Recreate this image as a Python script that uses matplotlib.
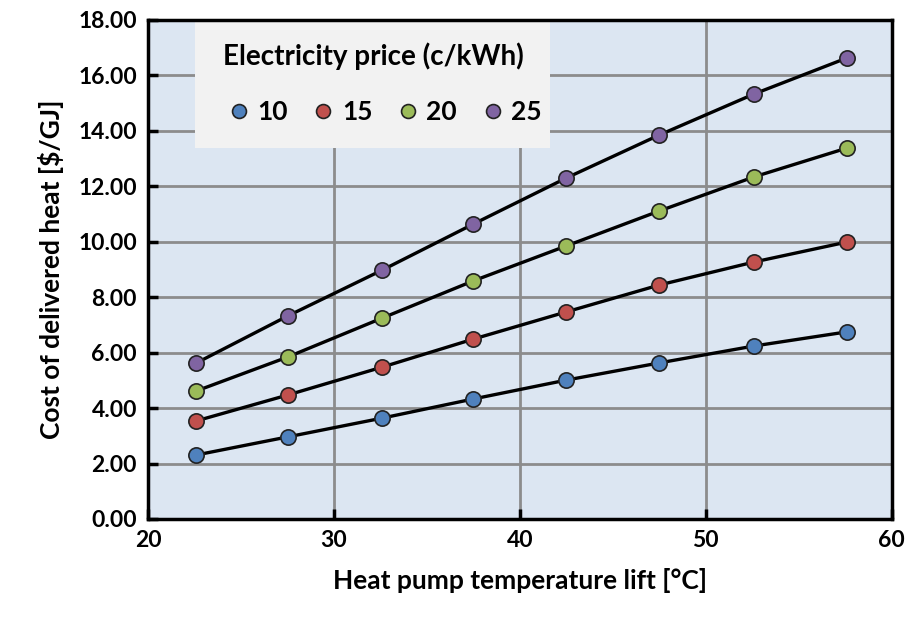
import matplotlib
matplotlib.use('Agg')
import matplotlib.pyplot as plt
from matplotlib.lines import Line2D
from matplotlib.patches import Rectangle

# data
lift = [22.6, 27.5, 32.6, 37.5, 42.5, 47.5, 52.6, 57.6]
cost_10 = [2.31, 2.96, 3.64, 4.33, 5.01, 5.63, 6.24, 6.75]
cost_15 = [3.54, 4.47, 5.48, 6.49, 7.47, 8.44, 9.27, 9.99]
cost_20 = [4.62, 5.84, 7.25, 8.59, 9.85, 11.11, 12.34, 13.38]
cost_25 = [5.63, 7.32, 8.98, 10.64, 12.30, 13.85, 15.33, 16.63]
prices = ['10', '15', '20', '25']
colors = ['#4f81bd', '#c0504d', '#9bbb59', '#8064a2']

plt.rcParams['font.family'] = ['Lato', 'DejaVu Sans']
plt.rcParams['font.weight'] = 'bold'

fig = plt.figure(figsize=(9.09, 6.22), dpi=100)
ax = fig.add_axes([0.163, 0.1656, 0.818, 0.8024])
ax.set_facecolor('#dce6f2')

series = [cost_10, cost_15, cost_20, cost_25]
handles = []
for vals, col, lab in zip(series, colors, prices):
	ax.plot(lift, vals, color='black', lw=2.4, zorder=3)
	ax.plot(lift, vals, ls='none', marker='o', ms=11, mfc=col, mec='#222222', mew=1.2, zorder=4)
	handles.append(Line2D([], [], ls='none', marker='o', ms=10, mfc=col, mec='#222222', mew=1.2, label=lab))

ax.set_xlim(20, 60)
ax.set_ylim(0, 18)
ax.set_xticks([20, 30, 40, 50, 60])
ax.set_yticks([0, 2, 4, 6, 8, 10, 12, 14, 16, 18])
ax.set_yticklabels(['%.2f' % v for v in ax.get_yticks()])
ax.grid(True, color='#8c8c8c', lw=2)
ax.set_axisbelow(True)
for s in ax.spines.values():
	s.set_linewidth(2.5)
	s.set_color('black')
ax.tick_params(direction='in', length=7, width=2.5, labelsize=16.5, pad=8)

ax.set_xlabel('Heat pump temperature lift [°C]', fontsize=19, fontweight='bold', labelpad=12)
ax.set_ylabel('Cost of delivered heat [$/GJ]', fontsize=19, fontweight='bold', labelpad=10)

# gray legend box
ax.add_patch(Rectangle((0.063, 0.743), 0.477, 0.257, transform=ax.transAxes,
	facecolor='#f2f2f2', edgecolor='none', zorder=2.5))

leg = ax.legend(handles=handles, title='Electricity price (c/kWh)', ncol=4,
	loc='upper center', bbox_to_anchor=(0.063 + 0.477 / 2 + 0.017, 1.0),
	borderaxespad=0, fontsize=19, title_fontsize=20, frameon=False,
	handlelength=0.8, handletextpad=0.3, columnspacing=0.95, borderpad=0.85)
leg.get_title().set_fontweight('bold')
leg.get_title().set_x(-12)
leg._legend_box.sep = 22

fig.savefig('out.png', dpi=100)
